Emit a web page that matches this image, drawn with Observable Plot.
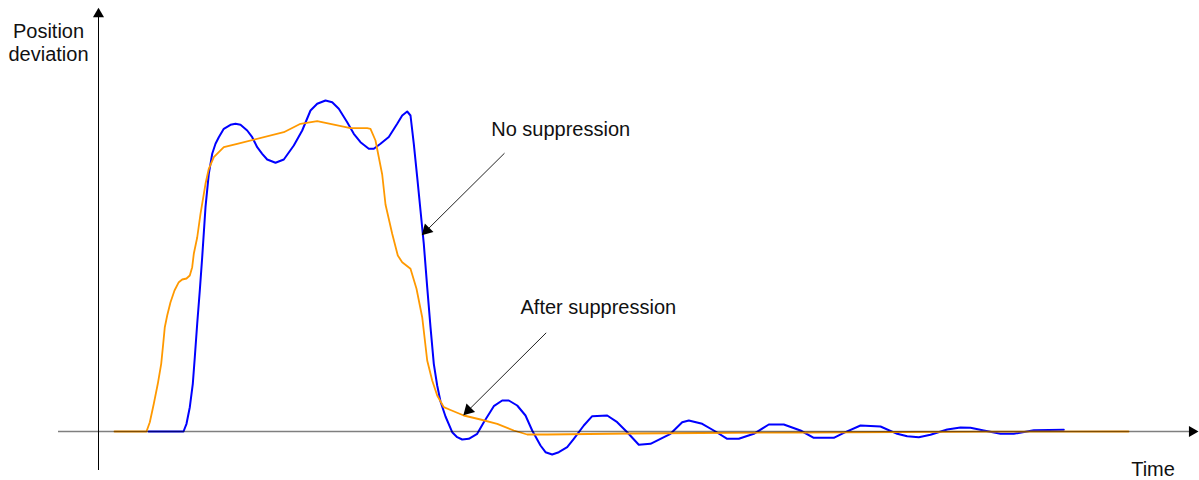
<!DOCTYPE html>
<html>
<head>
<meta charset="utf-8">
<script src="https://cdn.jsdelivr.net/npm/d3@7"></script>
<script src="https://cdn.jsdelivr.net/npm/@observablehq/plot@0.6"></script>
<style>
  html, body { margin: 0; padding: 0; background: #fff; }
</style>
</head>
<body>
<div id="chart"></div>
<script>
// Time (arbitrary units) vs. position deviation (arbitrary units)
const noSuppression = [
  [50,0],[85,0],[88,7.7],[91.3,24.3],[94.3,47.7],[96.3,74.3],[98.7,107.7],[101.3,141],[103.7,174.3],
  [107,224.3],[110.3,257.7],[113.7,277.7],[117,287.7],[120.3,294.3],[125.3,302.7],[132,306.7],
  [137,307.7],[142,306.7],[148.7,301],[153.7,294.3],[158.7,284.3],[163.7,277.7],[168.7,272],
  [177,268.7],[185.3,272],[195.3,286],[203.7,301],[212,321],[218.7,327.7],[227,331],[233.7,329.3],
  [240.3,322.7],[248.7,309.3],[255.3,297.7],[262,289.3],[270.3,282.7],[275.3,282.7],[282,287.7],
  [290.3,294.5],[298.7,307.7],[303.7,316],[308.7,320],[312,316],[315.3,287.7],[318.7,254.3],
  [322,221],[325.3,187.7],[328.7,144.3],[332,104.3],[335.3,67.7],[338.7,46],[342,30],[347,15],
  [353.7,-0.7],[358.7,-5.7],[363.7,-8],[370.3,-7.3],[378.7,-2.3],[385.3,9.3],[395.3,25.3],
  [403.7,31],[410.3,31],[418.7,26],[427,16],[433.7,1],[442,-14],[447,-20.7],[453.7,-23],
  [460.3,-20.7],[468.7,-15.7],[475.3,-7.3],[485.3,6],[493.7,15.3],[508.7,16],[518.7,9.3],
  [528.7,-0.7],[540.3,-13.3],[552,-12.3],[572,-2.3],[583.7,9.3],[590.3,11],[603.7,7.7],[617,0],
  [628.7,-7.3],[640.3,-7.3],[655.3,-2.3],[670.3,7],[685.3,7],[702,1],[715.3,-6.3],[735.3,-6.3],
  [745.3,-1.3],[762,6],[782,5],[798.7,-2.3],[808.7,-4.7],[820.3,-5.7],[832,-3.3],[848.7,2],
  [862,4],[872,3.7],[885.3,1],[902,-2.3],[915.3,-2.3],[935.3,1.3],[965.3,1.7]
];
const afterSuppression = [
  [16,0],[48,0],[51.3,9.3],[55.3,27.7],[59.3,47.7],[62.7,67.7],[64.7,87.7],[66.3,104.3],[68.7,116],
  [72,129.3],[76,141],[80.3,149.3],[83.7,152],[88,153],[91.3,156],[93.7,164.3],[95.3,177.7],
  [98.7,194],[102,217.7],[107,247.7],[110.3,262.7],[115.3,274.3],[125.3,284.3],[138.7,287.7],
  [185.3,299.3],[202,307.7],[218.7,310.3],[252,303.3],[268.7,303.3],[272,302.7],[277,291],
  [283.7,257],[287,227],[293.7,197.7],[299.3,176],[303.7,169.3],[312,162.7],[318,142.7],
  [323.7,114.3],[328.7,71],[333.7,51],[338.7,36],[345.3,24.3],[352,21.5],[365.3,16],[382,12],
  [398.7,7.7],[415.3,1],[428.7,-3],[448.7,-3],[532,-2],[602,-1.5],[702,-1],[802,-0.5],[902,-0.2],[1030,0]
];
// axis extents [start, tip]
const xAxisExtent = [-40, 1100];
const yAxisExtent = [-39, 423.7];
// annotations: label, label position, arrow start, arrow tip
const annotations = [
  {label: "No suppression", lx: 392.7, ly: 296, x1: 406, y1: 278.3, x2: 323.7, y2: 196.7},
  {label: "After suppression", lx: 422, ly: 118, x1: 447.7, y1: 98.7, x2: 365.3, y2: 16.7}
];
const axisLabels = [
  {label: "Position", x: -50, y: 394},
  {label: "deviation", x: -50, y: 371},
  {label: "Time", x: 1054.5, y: -44}
];

const font = "Liberation Sans, Arial, Helvetica, sans-serif";
const headR = 4.1;          // triangle head size
const headOff = 6.35;       // centroid offset from tip (px)
const diag = headOff / Math.SQRT2;

const plot = Plot.plot({
  width: 1199,
  height: 480,
  margin: 0,
  style: {background: "#fff", fontFamily: font, overflow: "visible"},
  x: {type: "linear", domain: [-98, 1101], range: [0, 1199], axis: null},
  y: {type: "linear", domain: [-49, 431], range: [480, 0], axis: null},
  marks: [
    // y axis
    Plot.ruleX([0], {y1: yAxisExtent[0], y2: yAxisExtent[1] - 8, stroke: "#000", strokeWidth: 1}),
    Plot.dot([[0, yAxisExtent[1]]], {x: d => d[0], y: d => d[1], symbol: "triangle", r: headR, fill: "#000", stroke: "none", dy: headOff}),
    // curves
    Plot.line(noSuppression, {x: d => d[0], y: d => d[1], stroke: "#0000ff", strokeWidth: 2}),
    Plot.line(afterSuppression, {x: d => d[0], y: d => d[1], stroke: "#ff9900", strokeWidth: 1.8}),
    // x axis (semi-transparent, drawn on top)
    Plot.ruleY([0], {x1: xAxisExtent[0], x2: xAxisExtent[1] - 6, stroke: "#000", strokeOpacity: 0.5, strokeWidth: 1.6}),
    Plot.dot([[xAxisExtent[1], 0]], {x: d => d[0], y: d => d[1], symbol: "triangle", r: headR, rotate: 90, fill: "#000", stroke: "none", dx: -headOff}),
    // annotations
    Plot.link(annotations, {x1: "x1", y1: "y1", x2: "x2", y2: "y2", stroke: "#222", strokeWidth: 1}),
    Plot.dot(annotations, {x: "x2", y: "y2", symbol: "triangle", r: headR + 0.4, rotate: 225, fill: "#000", stroke: "none", dx: diag, dy: -diag}),
    Plot.text(annotations, {x: "lx", y: "ly", text: "label", textAnchor: "start", lineAnchor: "bottom", fontSize: 20, fill: "#111", fontFamily: font}),
    Plot.text(axisLabels, {x: "x", y: "y", text: "label", textAnchor: "middle", lineAnchor: "bottom", fontSize: 20, fill: "#111", fontFamily: font})
  ]
});
document.getElementById("chart").appendChild(plot);
</script>
</body>
</html>
